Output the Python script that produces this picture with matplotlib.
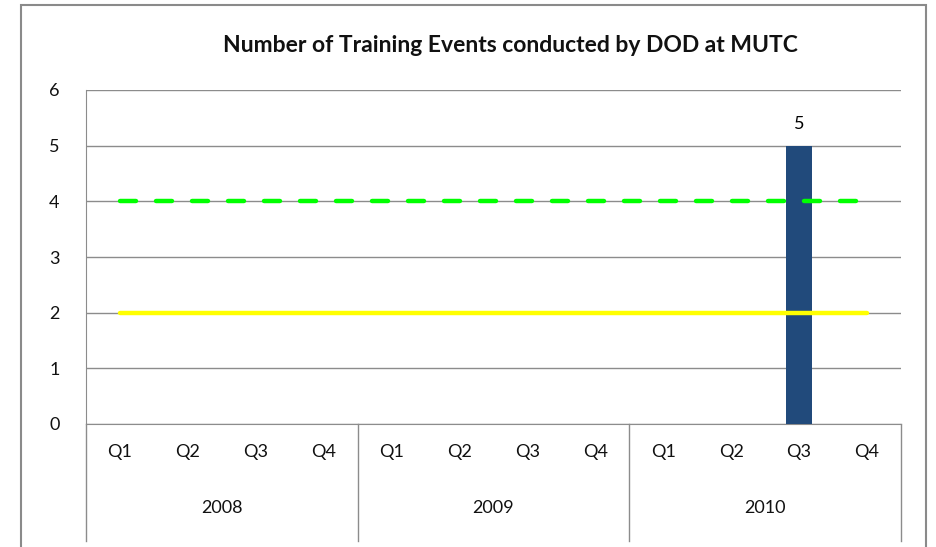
import numpy as np
import matplotlib.pyplot as plt
from matplotlib.patches import Rectangle

quarters = ["Q1", "Q2", "Q3", "Q4"] * 3
years = ["2008", "2009", "2010"]
events = [0, 0, 0, 0, 0, 0, 0, 0, 0, 0, 5, 0]
goal = [4] * 12
minimum = [2] * 12

plt.rcParams["font.family"] = ["Lato", "DejaVu Sans"]

fig = plt.figure(figsize=(9.36, 5.47), dpi=100)
ax = fig.add_axes([86 / 936, 1 - 424 / 547, 815 / 936, 334 / 547])

x = np.arange(len(quarters))
bars = ax.bar(x, events, width=0.39, color="#214A7B", zorder=3)
for xi, v in zip(x, events):
    if v > 0:
        ax.text(xi, v + 0.25, str(v), ha="center", va="bottom", fontsize=13)

ax.plot(x, goal, color="#00FF00", lw=3.2, linestyle=(0, (3.6, 4.5)),
        dash_capstyle="round", zorder=4)
ax.plot(x, minimum, color="#FFFF00", lw=3.2, solid_capstyle="round", zorder=4)

ax.set_xlim(-0.5, len(quarters) - 0.5)
ax.set_ylim(0, 6)
ax.set_yticks(range(7))
ax.yaxis.grid(True, color="#8c8c8c", lw=1)
ax.set_axisbelow(True)
ax.tick_params(axis="y", length=0, pad=19, labelsize=13, labelcolor="#111111")
ax.tick_params(axis="x", length=0)
ax.set_xticks([])
for s in ["top", "right"]:
    ax.spines[s].set_visible(False)
for s in ["left", "bottom"]:
    ax.spines[s].set_color("#8c8c8c")

tr = ax.get_xaxis_transform()
for xi, q in zip(x, quarters):
    ax.text(xi, -0.084, q, transform=tr, ha="center", va="center", fontsize=13,
            color="#111111")
for i, yr in enumerate(years):
    ax.text(i * 4 + 1.5, -0.252, yr, transform=tr, ha="center", va="center",
            fontsize=13, color="#111111")
for b in [-0.5, 3.5, 7.5, 11.5]:
    ax.plot([b, b], [0, -0.35], transform=tr, color="#8c8c8c", lw=1, clip_on=False)

fig.text(510 / 936, 1 - 46 / 547, "Number of Training Events conducted by DOD at MUTC",
         ha="center", va="center", fontsize=16.5, fontweight="bold", color="#111111")

fig.patches.append(Rectangle((21 / 936, -0.1), 905 / 936, 1.1 - 5 / 547,
                             transform=fig.transFigure, fill=False,
                             edgecolor="#8a8a8a", lw=1.5))

fig.savefig("out.png", dpi=100)
